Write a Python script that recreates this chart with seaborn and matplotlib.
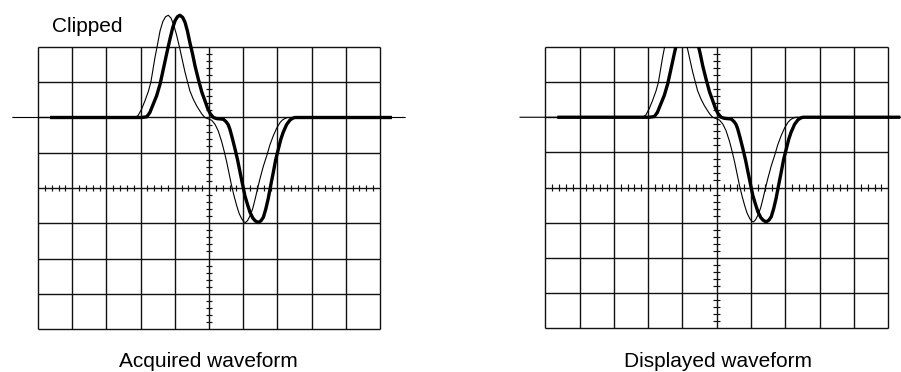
import numpy as np
import pandas as pd
import matplotlib
matplotlib.use("Agg")
import matplotlib.pyplot as plt
import seaborn as sns

# ---- data (divisions; x: -5..5, y: -4..4) ----
thin_x = [-5.75, -2.16, -2.07, -1.97, -1.87, -1.77, -1.70, -1.58, -1.50, -1.43,
          -1.35, -1.27, -1.19, -1.11, -1.03, -0.95, -0.85, -0.70, -0.56, -0.46,
          -0.36, -0.21, -0.12, -0.02, 0.08, 0.18, 0.27, 0.37, 0.45, 0.52,
          0.59, 0.66, 0.74, 0.81, 0.88, 0.96, 1.02, 1.07, 1.13, 1.20,
          1.28, 1.35, 1.42, 1.49, 1.59, 1.69, 1.78, 1.88, 1.98, 2.08,
          2.15, 2.22, 2.30, 5.75]
thin_y = [2.00, 2.00, 2.06, 2.24, 2.48, 2.75, 3.00, 3.70, 4.10, 4.46,
          4.72, 4.86, 4.90, 4.82, 4.62, 4.35, 3.94, 3.28, 2.76, 2.52,
          2.33, 2.10, 2.00, 1.96, 1.92, 1.80, 1.62, 1.32, 1.02, 0.73,
          0.40, 0.07, -0.25, -0.50, -0.72, -0.88, -0.96, -0.98, -0.92, -0.79,
          -0.58, -0.31, -0.02, 0.26, 0.62, 0.92, 1.22, 1.48, 1.70, 1.86,
          1.93, 1.97, 2.00, 2.00]

thick_x = [-4.65, -1.97, -1.82, -1.73, -1.63, -1.53, -1.43, -1.34, -1.24, -1.14,
           -1.06, -0.99, -0.92, -0.85, -0.77, -0.70, -0.63, -0.56, -0.48, -0.41,
           -0.31, -0.21, -0.12, -0.04, 0.04, 0.13, 0.22, 0.32, 0.42, 0.50,
           0.56, 0.61, 0.68, 0.76, 0.84, 0.91, 0.98, 1.05, 1.13, 1.20,
           1.28, 1.35, 1.44, 1.52, 1.59, 1.66, 1.73, 1.80, 1.88, 1.95,
           2.03, 2.10, 2.17, 2.27, 2.37, 2.45, 2.51, 5.35]
thick_y = [2.00, 2.00, 2.02, 2.14, 2.38, 2.62, 2.95, 3.35, 3.80, 4.23,
           4.55, 4.75, 4.86, 4.90, 4.84, 4.70, 4.45, 4.13, 3.80, 3.47,
           3.08, 2.72, 2.48, 2.26, 2.10, 2.00, 1.97, 1.96, 1.95, 1.88,
           1.80, 1.67, 1.42, 1.11, 0.78, 0.44, 0.11, -0.22, -0.48, -0.69,
           -0.85, -0.93, -0.98, -0.93, -0.83, -0.60, -0.31, 0.05, 0.44, 0.80,
           1.11, 1.38, 1.58, 1.80, 1.93, 1.98, 2.00, 2.00]

panel_titles = ["Acquired waveform", "Displayed waveform"]
clip_label = "Clipped"

thin_df = pd.DataFrame({"x": thin_x, "y": thin_y})
thick_df = pd.DataFrame({"x": thick_x, "y": thick_y})

sns.set_style("white")
FONT = ["Liberation Sans", "DejaVu Sans"]
plt.rcParams["font.family"] = FONT
plt.rcParams["text.color"] = "black"

W, H = 901, 372
fig = plt.figure(figsize=(W / 100, H / 100), dpi=100)

# left panel (unclipped), right panel (clipped at screen top)
ax1 = fig.add_axes([10.64 / W, (H - 329) / H, 396.7 / W, 324.3 / H])
ax1.set_xlim(-5.8, 5.8)
ax1.set_ylim(-4, 5.2)
ax2 = fig.add_axes([517.8 / W, (H - 328) / H, 397.9 / W, 281 / H])
ax2.set_xlim(-5.8, 5.8)
ax2.set_ylim(-4, 4)

grid_c = "#111111"
for ax, clipped in ((ax1, False), (ax2, True)):
    ax.set_axis_off()
    ax.vlines(np.arange(-5, 6), -4, 4, colors=grid_c, lw=1.0, clip_on=False, zorder=1)
    ax.hlines(np.arange(-4, 5), -5, 5, colors=grid_c, lw=1.0, clip_on=False, zorder=1)
    minor = np.array([v for v in np.arange(-5, 5.01, 0.2) if abs(v - round(v)) > 1e-6])
    ax.vlines(minor, -0.09, 0.09, colors=grid_c, lw=0.85, clip_on=False, zorder=1)
    minor_y = np.array([v for v in np.arange(-4, 4.01, 0.2) if abs(v - round(v)) > 1e-6])
    ax.hlines(minor_y, -0.095, 0.095, colors=grid_c, lw=0.85, clip_on=False, zorder=1)

    sns.lineplot(data=thin_df, x="x", y="y", ax=ax, color="black", lw=0.8,
                 estimator=None, sort=False, zorder=3)
    sns.lineplot(data=thick_df, x="x", y="y", ax=ax, color="black", lw=2.4,
                 estimator=None, sort=False, zorder=4)
    for ln in ax.get_lines():
        ln.set_solid_capstyle("butt")
        ln.set_clip_on(clipped)
    ax.set_xlabel("")
    ax.set_ylabel("")

fig.text(52 / W, 1 - 31.7 / H, clip_label, fontsize=15, ha="left",
         va="baseline", color="black", family=FONT)
fig.text(208 / W, (H - 367) / H, panel_titles[0], fontsize=15, ha="center",
         va="baseline", color="black", family=FONT)
fig.text(718 / W, (H - 367) / H, panel_titles[1], fontsize=15, ha="center",
         va="baseline", color="black", family=FONT)

fig.savefig("out.png", dpi=100, facecolor="white")
